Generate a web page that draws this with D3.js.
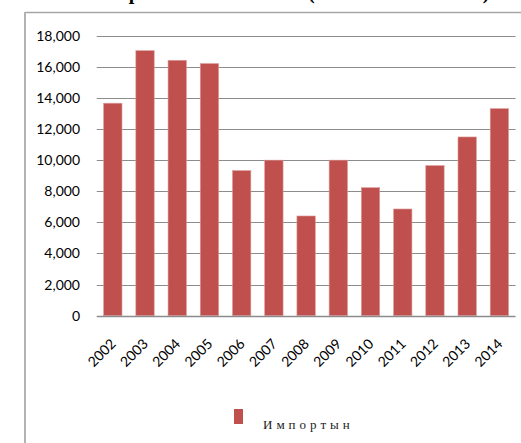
<!DOCTYPE html>
<html>
<head>
<meta charset="utf-8">
<script src="https://cdn.jsdelivr.net/npm/d3@7"></script>
<style>
  html, body { margin: 0; padding: 0; background: #fff; }
  svg { display: block; }
</style>
</head>
<body>
<script>
// Import volume by year
const years = ["2002","2003","2004","2005","2006","2007","2008","2009","2010","2011","2012","2013","2014"];
const imports = [13660, 17040, 16420, 16210, 9330, 10000, 6410, 10000, 8230, 6860, 9650, 11490, 13310];
const yTicks = [0, 2000, 4000, 6000, 8000, 10000, 12000, 14000, 16000, 18000];
const seriesName = "Импортын";
const titleParts = ["Импортын хэмжээ", "(мянган тонн)"];

const W = 521, H = 443;
const svg = d3.select("body").append("svg").attr("width", W).attr("height", H);

// chart frame (only top and left edges fall inside the view)
svg.append("line").attr("x1", 25).attr("x2", W).attr("y1", 12.5).attr("y2", 12.5)
  .attr("stroke", "#a6a6a6").attr("stroke-width", 1.5);
svg.append("line").attr("x1", 25).attr("x2", 25).attr("y1", 12).attr("y2", H)
  .attr("stroke", "#b3b3b3").attr("stroke-width", 2);

// title, sitting mostly above the view
const title = svg.append("text")
  .attr("y", -1)
  .attr("font-family", "'Liberation Serif', 'DejaVu Serif', serif")
  .attr("font-weight", "bold").attr("font-size", 20).attr("fill", "#000");
title.append("tspan").attr("x", 66).attr("letter-spacing", 3).text(titleParts[0]);
title.append("tspan").attr("x", 308).attr("letter-spacing", 4.5).text(titleParts[1]);

const plot = { left: 96.7, right: 515.5, top: 35.7, bottom: 315.7 };

const x = d3.scaleBand().domain(years).range([plot.left, plot.right]).paddingInner(0.43).paddingOuter(0.215);
const y = d3.scaleLinear().domain([0, 18000]).range([plot.bottom, plot.top]);

// gridlines
svg.append("g").selectAll("line").data(yTicks.filter(d => d > 0)).join("line")
  .attr("x1", plot.left).attr("x2", plot.right)
  .attr("y1", d => Math.round(y(d)) + 0.5).attr("y2", d => Math.round(y(d)) + 0.5)
  .attr("stroke", "#8c8c8c").attr("stroke-width", 1.2);

// y axis labels
const yAxis = d3.axisLeft(y).tickValues(yTicks).tickFormat(d3.format(",")).tickSize(0).tickPadding(0);
const yg = svg.append("g").attr("transform", `translate(${80},0)`).call(yAxis);
yg.select(".domain").remove();
yg.selectAll("text").attr("font-family", "Lato, 'Open Sans', sans-serif").attr("font-size", 14).attr("fill", "#000");

// bars
svg.append("g").selectAll("rect").data(years).join("rect")
  .attr("x", d => x(d)).attr("width", x.bandwidth())
  .attr("y", (d, i) => y(imports[i]))
  .attr("height", (d, i) => y(0) - y(imports[i]))
  .attr("fill", "#c0504d").attr("stroke", "#dc9c9a").attr("stroke-width", 0.6);

// baseline
svg.append("line").attr("x1", plot.left).attr("x2", plot.right)
  .attr("y1", Math.round(y(0)) + 0.5).attr("y2", Math.round(y(0)) + 0.5)
  .attr("stroke", "#8c8c8c").attr("stroke-width", 1.4);

// x axis labels, rotated
const xAxis = d3.axisBottom(x).tickSize(0).tickPadding(0);
const xg = svg.append("g").attr("transform", `translate(0,${plot.bottom})`).call(xAxis);
xg.select(".domain").remove();
xg.selectAll("text")
  .attr("font-family", "Lato, 'Open Sans', sans-serif").attr("font-size", 14).attr("fill", "#000")
  .attr("text-anchor", "end").attr("dy", null)
  .attr("transform", "translate(4,29) rotate(-45)");

// legend
svg.append("rect").attr("x", 234).attr("y", 409).attr("width", 9).attr("height", 15).attr("fill", "#c0504d");
svg.append("text").attr("x", 263).attr("y", 429)
  .attr("font-family", "'Liberation Serif', 'DejaVu Serif', serif").attr("font-size", 13)
  .attr("letter-spacing", 4).attr("fill", "#222").text(seriesName);
</script>
</body>
</html>
